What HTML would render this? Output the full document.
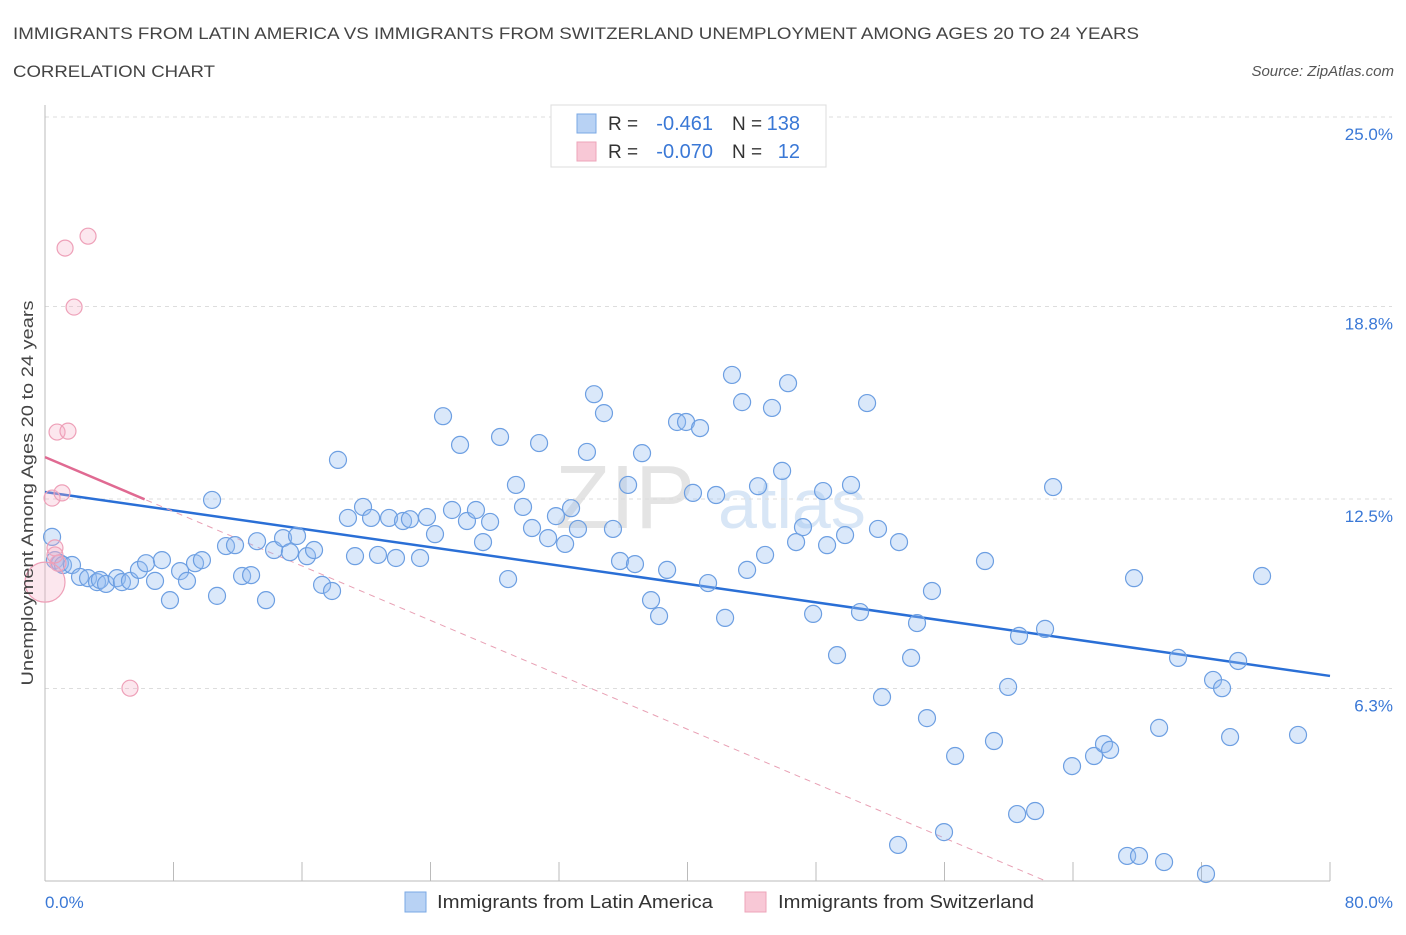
<!DOCTYPE html>
<html><head><meta charset="utf-8">
<style>
body{margin:0;background:#fff;font-family:"Liberation Sans",sans-serif;}
svg text{font-family:"Liberation Sans",sans-serif;}
</style></head>
<body>
<svg id="chart" width="1406" height="930" xmlns="http://www.w3.org/2000/svg">
<text x="13" y="39" font-size="17" fill="#444" textLength="1126" lengthAdjust="spacingAndGlyphs">IMMIGRANTS FROM LATIN AMERICA VS IMMIGRANTS FROM SWITZERLAND UNEMPLOYMENT AMONG AGES 20 TO 24 YEARS</text>
<text x="13" y="77" font-size="17" fill="#444" textLength="202" lengthAdjust="spacingAndGlyphs">CORRELATION CHART</text>
<text x="1394" y="76" font-size="15" fill="#555" font-style="italic" text-anchor="end">Source: ZipAtlas.com</text>
<text x="555" y="528" font-size="90" fill="#e4e4e4" font-family="Liberation Serif">ZIP</text>
<text x="718" y="528" font-size="70" fill="#d8e6f6">atlas</text>
<g id="grid"></g>
<g id="axes"></g>
<g id="lines"></g>
<g id="pts"></g>
<text transform="translate(33,493) rotate(-90)" font-size="17" fill="#444" text-anchor="middle" textLength="385" lengthAdjust="spacingAndGlyphs">Unemployment Among Ages 20 to 24 years</text>
<text x="45" y="908" font-size="17" fill="#3a78d6">0.0%</text>
<text x="1393" y="908" font-size="17" fill="#3a78d6" text-anchor="end">80.0%</text>
<g>
<rect x="551" y="105" width="275" height="62" fill="#fff" stroke="#ddd"/>
<rect x="577" y="114" width="19" height="19" fill="#b8d2f4" stroke="#7aa8e4"/>
<rect x="577" y="142" width="19" height="19" fill="#f8c8d6" stroke="#eea4ba"/>
<text x="608" y="130" font-size="19" fill="#333">R =</text>
<text x="713" y="130" font-size="20" fill="#3a78d6" text-anchor="end">-0.461</text>
<text x="732" y="130" font-size="19" fill="#333">N =</text>
<text x="800" y="130" font-size="20" fill="#3a78d6" text-anchor="end">138</text>
<text x="608" y="158" font-size="19" fill="#333">R =</text>
<text x="713" y="158" font-size="20" fill="#3a78d6" text-anchor="end">-0.070</text>
<text x="732" y="158" font-size="19" fill="#333">N =</text>
<text x="800" y="158" font-size="20" fill="#3a78d6" text-anchor="end">12</text>
</g>
<g>
<rect x="405" y="892" width="21" height="20" fill="#b8d2f4" stroke="#7aa8e4"/>
<text x="437" y="908" font-size="18" fill="#333" textLength="276" lengthAdjust="spacingAndGlyphs">Immigrants from Latin America</text>
<rect x="745" y="892" width="21" height="20" fill="#f8c8d6" stroke="#eea4ba"/>
<text x="778" y="908" font-size="18" fill="#333" textLength="256" lengthAdjust="spacingAndGlyphs">Immigrants from Switzerland</text>
</g>
</svg>
<script>
const yTicks=[6.3,12.5,18.8,25.0];
const xTickVals=[0,8,16,24,32,40,48,56,64,72,80];
const blueX=[0.44,0.62,0.93,1.12,1.68,2.18,2.68,3.24,3.42,3.80,4.48,4.79,5.29,5.85,6.29,6.85,7.28,7.78,8.41,8.84,9.34,9.77,10.40,10.71,11.27,11.83,12.27,12.83,13.20,13.76,14.26,14.82,15.25,15.69,16.31,16.75,17.25,17.87,18.24,18.86,19.30,19.80,20.30,20.73,21.42,21.85,22.29,22.72,23.35,23.78,24.28,24.78,25.34,25.84,26.27,26.83,27.27,27.71,28.33,28.83,29.32,29.76,30.32,30.76,31.32,31.81,32.38,32.75,33.18,33.74,34.18,34.80,35.36,35.80,36.30,36.73,37.17,37.73,38.23,38.73,39.35,39.91,40.34,40.78,41.28,41.78,42.34,42.77,43.40,43.71,44.39,44.83,45.26,45.89,46.26,46.76,47.19,47.82,48.44,48.69,49.31,49.81,50.18,50.74,51.18,51.86,52.11,53.11,53.17,53.92,54.29,54.91,55.22,55.97,56.66,58.52,59.08,59.96,60.52,60.64,61.64,62.26,62.76,63.94,65.31,65.93,66.31,67.37,67.80,68.11,69.36,69.67,70.54,72.28,72.72,73.28,73.78,74.28,75.77,78.01];
const blueY=[11.26,10.50,10.40,10.34,10.34,9.95,9.91,9.78,9.85,9.72,9.91,9.78,9.82,10.18,10.40,9.82,10.50,9.19,10.14,9.82,10.40,10.50,12.47,9.33,10.96,10.99,9.98,10.01,11.12,9.19,10.83,11.22,10.76,11.29,10.63,10.83,9.69,9.49,13.78,11.88,10.63,12.24,11.88,10.67,11.88,10.57,11.78,11.84,10.57,11.91,11.35,15.21,12.14,14.27,11.78,12.14,11.09,11.75,14.53,9.88,12.96,12.24,11.55,14.33,11.22,11.94,11.03,12.20,11.52,14.04,15.93,15.31,11.52,10.47,12.96,10.37,14.00,9.19,8.67,10.18,15.02,15.02,12.70,14.82,9.75,12.63,8.61,16.56,15.67,10.18,12.92,10.67,15.48,13.42,16.29,11.09,11.58,8.74,12.76,10.99,7.39,11.32,12.96,8.80,15.64,11.52,6.02,1.18,11.09,7.30,8.44,5.33,9.49,1.60,4.09,10.47,4.58,6.35,2.19,8.02,2.29,8.25,12.89,3.76,4.09,4.48,4.29,0.82,9.91,0.82,5.01,0.62,7.30,0.23,6.58,6.31,4.71,7.20,9.98,4.78];
const pinkX=[0.44,0.62,0.81,1.25,0.75,1.43,1.06,1.81,2.68,5.29,0,0.62];
const pinkY=[12.53,10.90,10.40,20.71,14.69,14.72,12.70,18.78,21.10,6.31,9.78,10.67];
const pinkR=[8,8,8,8,8,8,8,8,8,8,20,8];
const blueTrend=[12.73,6.71];
const pinkTrend=[13.87,-0.2226];

const NS="http://www.w3.org/2000/svg";
const X=v=>45+v*(1285/80);
const Y=v=>881-v*30.56;
function mk(t,a,p){const e=document.createElementNS(NS,t);for(const k in a)e.setAttribute(k,a[k]);p.appendChild(e);return e;}
const grid=document.getElementById('grid'),axes=document.getElementById('axes'),lines=document.getElementById('lines'),pts=document.getElementById('pts');
yTicks.forEach(v=>{
 const l=mk('line',{x1:45,x2:1392,y1:Y(v),y2:Y(v),stroke:'#ddd','stroke-dasharray':'4,4'},grid);
 
 
 const t=mk('text',{x:1393,y:Y(v)+23,'font-size':17,fill:'#3a78d6','text-anchor':'end'},grid);
 t.textContent=v.toFixed(1)+'%';
 
 
});
const ax=mk('line',{x1:45,x2:45,y1:105,y2:881,stroke:'#bbb'},axes);


const bx=mk('line',{x1:45,x2:1330,y1:881,y2:881,stroke:'#bbb'},axes);


xTickVals.forEach(v=>{
 const t=mk('line',{x1:X(v),x2:X(v),y1:862,y2:881,stroke:'#bbb'},axes);
 
 
});
const bl=mk('line',{x1:X(0),y1:Y(blueTrend[0]),x2:X(80),y2:Y(blueTrend[1]),stroke:'#2a6fd6','stroke-width':2.5},lines);


const pEnd=-pinkTrend[0]/pinkTrend[1];
const pd=mk('line',{x1:X(0),y1:Y(pinkTrend[0]),x2:X(pEnd),y2:Y(0),stroke:'#e8a0b4','stroke-width':1,'stroke-dasharray':'6,5'},lines);


const ps=mk('line',{x1:X(0),y1:Y(pinkTrend[0]),x2:X(6.2),y2:Y(pinkTrend[0]+pinkTrend[1]*6.2),stroke:'#e06a92','stroke-width':2.5},lines);


blueX.forEach((x,i)=>{
 const c=mk('circle',{cx:X(x),cy:Y(blueY[i]),r:8.5,fill:'rgba(150,190,240,0.35)',stroke:'#6d9fe2','stroke-width':1.2},pts);
 
 
});
pinkX.forEach((x,i)=>{
 const c=mk('circle',{cx:X(x),cy:Y(pinkY[i]),r:pinkR[i],fill:'rgba(245,175,198,0.3)',stroke:'#eea0b8','stroke-width':1.2},pts);
 
 
});
</script>
</body></html>
